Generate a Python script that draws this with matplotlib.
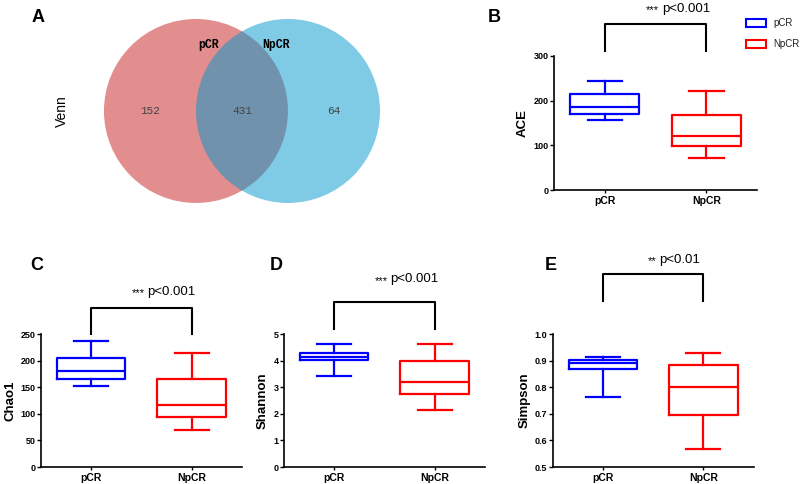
import matplotlib
matplotlib.use('agg')
import matplotlib.pyplot as plt
from matplotlib.patches import Circle, Rectangle

plt.rcParams.update({
    "font.family": ["Liberation Sans", "DejaVu Sans"],
    "font.size": 7})

# Venn counts
venn_sets = ["pCR", "NpCR"]
venn_counts = [152, 431, 64]   # only pCR, shared, only NpCR

groups = ["pCR", "NpCR"]
group_colors = ["#0000FF", "#FF0000"]

# box stats: [whisker low, q1, median, q3, whisker high]
ace_pcr = [157, 171, 185, 214, 244]
ace_npcr = [71, 99, 121, 169, 221]
chao1_pcr = [152.6, 165, 180, 205, 237]
chao1_npcr = [69, 94, 116, 164.6, 215]
shannon_pcr = [3.42, 4.04, 4.14, 4.29, 4.64]
shannon_npcr = [2.16, 2.73, 3.21, 4.0, 4.64]
simpson_pcr = [0.765, 0.87, 0.89, 0.9025, 0.915]
simpson_npcr = [0.5675, 0.696, 0.80, 0.884, 0.9275]

ace_ticks = [0, 100, 200, 300]
chao1_ticks = [0, 50, 100, 150, 200, 250]
shannon_ticks = [0, 1, 2, 3, 4, 5]
simpson_ticks = [0.5, 0.6, 0.7, 0.8, 0.9, 1.0]

W, H = 800, 484
fig = plt.figure(figsize=(8, 4.84), dpi=100)


def px(x, y):
    # pixel position (from top-left) -> figure fraction
    return x / W, 1 - y / H


def to_stats(v):
    return dict(whislo=v[0], q1=v[1], med=v[2], q3=v[3], whishi=v[4], fliers=[])


def box_panel(rect, letter, letter_xy, ylabel, pcr, npcr, ticks, tick_fmt, stars, ptext,
              brk_top, brk_bot, txt_y):
    ax = fig.add_axes(rect)
    for i, (vals, col) in enumerate(zip([pcr, npcr], group_colors)):
        ax.bxp([to_stats(vals)], positions=[i], widths=0.68, showfliers=False,
               capwidths=0.34,
               boxprops=dict(color=col, linewidth=1.6),
               whiskerprops=dict(color=col, linewidth=1.6),
               capprops=dict(color=col, linewidth=1.6),
               medianprops=dict(color=col, linewidth=1.6))
    ax.set_xlim(-0.5, 1.5)
    ax.set_ylim(ticks[0], ticks[-1])
    ax.set_yticks(ticks)
    ax.set_yticklabels([tick_fmt.format(t) for t in ticks], fontsize=6.5, fontweight='bold')
    ax.set_xticks([0, 1])
    ax.set_xticklabels(groups, fontsize=7.5, fontweight='bold')
    ax.tick_params(axis='y', length=3, width=1, pad=1)
    ax.tick_params(axis='x', length=2, width=1, pad=2)
    for s in ['top', 'right']:
        ax.spines[s].set_visible(False)
    for s in ['left', 'bottom']:
        ax.spines[s].set_linewidth(1.2)
    ax.set_ylabel(ylabel, fontsize=9.5, fontweight='bold', labelpad=3)
    # significance bracket
    tr = ax.get_xaxis_transform()
    ax.plot([0, 0, 1, 1], [brk_bot, brk_top, brk_top, brk_bot], color='black',
            linewidth=1.5, transform=tr, clip_on=False)
    ax.text(0.535, txt_y - 0.01, stars, transform=tr, ha='right', va='center', fontsize=8)
    ax.text(0.56, txt_y, ptext, transform=tr, ha='left', va='center', fontsize=9.5)
    fig.text(*px(*letter_xy), letter, fontsize=13, fontweight='bold', ha='center', va='center')
    return ax


# panel A - Venn
axv = fig.add_axes([0.125, 0.562, 0.3625, 0.4174])
axv.set_xlim(-1.543, 1.609)
axv.set_ylim(-1.098, 1.098)
axv.axis('off')
axv.add_patch(Circle((-0.5, 0), 1.0, facecolor='#C91F1F', alpha=0.5, edgecolor='none'))
axv.add_patch(Circle((0.5, 0), 1.0, facecolor='#0097CD', alpha=0.5, edgecolor='none'))
for x, c in zip([-1.0, 0.0, 1.0], venn_counts):
    axv.text(x, 0, str(c), ha='center', va='center', fontsize=8,
             family='Liberation Mono', color='#444444')
axv.text(-0.36, 0.72, venn_sets[0], ha='center', va='center', fontsize=8.3,
         family='Liberation Mono', fontweight='bold')
axv.text(0.37, 0.72, venn_sets[1], ha='center', va='center', fontsize=8.3,
         family='Liberation Mono', fontweight='bold')
fig.text(*px(62, 111), "Venn", rotation=90, fontsize=10, ha='center', va='center')
fig.text(*px(38, 17), "A", fontsize=13, fontweight='bold', ha='center', va='center')

box_panel([0.6925, 0.6074, 0.254, 0.2769], 'B', (494, 17), 'ACE', ace_pcr, ace_npcr,
          ace_ticks, '{:d}', '***', 'p<0.001', 1.239, 1.037, 1.35)
box_panel([0.05125, 0.0351, 0.251, 0.2748], 'C', (37, 265), 'Chao1', chao1_pcr, chao1_npcr,
          chao1_ticks, '{:d}', '***', 'p<0.001', 1.195, 1.0, 1.316)
box_panel([0.355, 0.0351, 0.251, 0.2748], 'D', (276, 265), 'Shannon', shannon_pcr, shannon_npcr,
          shannon_ticks, '{:d}', '***', 'p<0.001', 1.24, 1.04, 1.41)
box_panel([0.691, 0.0351, 0.251, 0.2748], 'E', (551, 265), 'Simpson', simpson_pcr, simpson_npcr,
          simpson_ticks, '{:.1f}', '**', 'p<0.01', 1.45, 1.25, 1.56)

# legend for panel B
for g, col, ly in zip(groups, group_colors, [23, 44]):
    x0, y0 = px(746, ly + 4)
    fig.patches.append(Rectangle((x0, y0), 20 / W, 8 / H, transform=fig.transFigure,
                                 fill=False, edgecolor=col, linewidth=1.5))
    fig.text(*px(773, ly), g, fontsize=7, ha='left', va='center', color='#222222')

plt.savefig("out.png", dpi=100)
